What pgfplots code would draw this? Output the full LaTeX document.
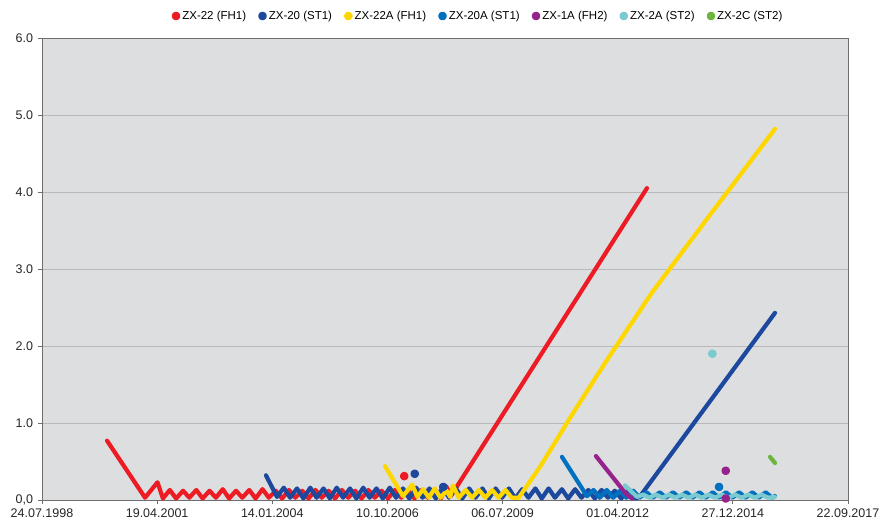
\documentclass[border=0pt]{standalone}
\usepackage{fontspec}
\setmainfont{Liberation Sans}
\usepackage{pgfplots}
\pgfplotsset{compat=1.18}
\definecolor{cRed}{RGB}{237,28,36}
\definecolor{cBlue}{RGB}{28,72,158}
\definecolor{cYel}{RGB}{255,215,0}
\definecolor{cMid}{RGB}{0,112,192}
\definecolor{cPur}{RGB}{150,35,140}
\definecolor{cTeal}{RGB}{122,202,207}
\definecolor{cGrn}{RGB}{108,182,62}
\definecolor{bgGray}{RGB}{221,222,224}
\definecolor{gridGray}{RGB}{185,185,188}
\definecolor{axGray}{RGB}{110,110,110}
\begin{document}
\begin{tikzpicture}
\path[use as bounding box] (-42bp,-22bp) rectangle (837bp,500bp);
\begin{axis}[
  scale only axis, width=806bp, height=462bp,
  xmin=0, xmax=7000, ymin=0, ymax=6,
  axis background/.style={fill=bgGray},
  ytick={0,1,2,3,4,5,6},
  yticklabels={{0,0},{1.0},{2.0},{3.0},{4.0},{5.0},{6.0}},
  xtick={0,1000,2000,3000,4000,5000,6000,7000},
  xticklabels={24.07.1998,19.04.2001,14.01.2004,10.10.2006,06.07.2009,01.04.2012,27.12.2014,22.09.2017},
  ymajorgrids, grid style={gridGray, line width=0.9bp},
  tick align=outside, tick pos=left, major tick length=4bp,
  tick style={axGray, line width=0.8bp},
  axis line style={axGray, line width=0.9bp},
  ticklabel style={font=\fontsize{12.5bp}{14bp}\selectfont, text=black!85},
  xticklabel style={yshift=-1.5bp},
  yticklabel style={xshift=-1.5bp},
  legend style={at={(0.541,1.0476)}, anchor=center, draw=none, fill=none,
    legend columns=7, font=\fontsize{11.5bp}{13bp}\selectfont,
    /tikz/every even column/.append style={column sep=10bp}},
  every axis plot/.append style={line width=4.2bp, line join=round, line cap=round},
]
\addlegendimage{legend image code/.code={\fill[cRed] (0bp,0bp) circle (2.2bp);}}
\addlegendentry{ZX-22 (FH1)}
\addlegendimage{legend image code/.code={\fill[cBlue] (0bp,0bp) circle (2.2bp);}}
\addlegendentry{ZX-20 (ST1)}
\addlegendimage{legend image code/.code={\fill[cYel] (0bp,0bp) circle (2.2bp);}}
\addlegendentry{ZX-22A (FH1)}
\addlegendimage{legend image code/.code={\fill[cMid] (0bp,0bp) circle (2.2bp);}}
\addlegendentry{ZX-20A (ST1)}
\addlegendimage{legend image code/.code={\fill[cPur] (0bp,0bp) circle (2.2bp);}}
\addlegendentry{ZX-1A (FH2)}
\addlegendimage{legend image code/.code={\fill[cTeal] (0bp,0bp) circle (2.2bp);}}
\addlegendentry{ZX-2A (ST2)}
\addlegendimage{legend image code/.code={\fill[cGrn] (0bp,0bp) circle (2.2bp);}}
\addlegendentry{ZX-2C (ST2)}

% ZX-22 (FH1)
\addplot[cRed, forget plot] coordinates {
(565,0.77) (895,0.03) (1003,0.23) (1050,0.02) (1110,0.13) (1165,0.02) (1225,0.12)
(1280,0.03) (1340,0.13) (1395,0.02) (1455,0.12) (1510,0.03) (1570,0.14) (1625,0.02)
(1685,0.12) (1740,0.03) (1800,0.13) (1855,0.02) (1915,0.14) (1970,0.03) (2030,0.12)
(2085,0.02) (2145,0.13) (2200,0.03) (2260,0.12) (2315,0.02) (2375,0.13) (2430,0.03)
(2490,0.12) (2545,0.02) (2605,0.13) (2660,0.03) (2720,0.12) (2775,0.02) (2835,0.13)
(2890,0.03) (2950,0.12) (3005,0.02) (3065,0.13) (3120,0.03) (3180,0.12) (3235,0.02)
(3295,0.13) (3350,0.03) (3410,0.12) (3465,0.02) (3510,0.18) (3550,0.05) (4091,1.32)
(5254,4.05)};
\addplot[cRed, only marks, mark=*, mark size=2.2bp, forget plot] coordinates {(3146,0.31)};

% ZX-20 (ST1)
\addplot[cBlue, forget plot] coordinates {
(1945,0.32) (2041,0.04) (2100,0.16) (2155,0.03) (2215,0.15) (2270,0.02) (2330,0.16)
(2385,0.03) (2445,0.15) (2500,0.02) (2560,0.16) (2615,0.03) (2675,0.15) (2730,0.02)
(2790,0.16) (2845,0.03) (2905,0.15) (2960,0.02) (3020,0.16) (3075,0.03) (3135,0.15)
(3190,0.02) (3250,0.16) (3305,0.03) (3365,0.15) (3420,0.02) (3480,0.16) (3535,0.03)
(3595,0.15) (3650,0.02) (3710,0.15) (3765,0.03) (3825,0.15) (3880,0.02) (3940,0.15)
(3995,0.03) (4055,0.15) (4110,0.02) (4170,0.14) (4225,0.03) (4285,0.15) (4340,0.02)
(4400,0.15) (4455,0.03) (4515,0.14) (4570,0.02) (4630,0.14) (4685,0.03) (4745,0.13)
(4800,0.02) (4860,0.13) (4915,0.03) (4975,0.12) (5030,0.02) (5090,0.12) (5150,0.02)
(5190,0.04) (6366,2.43)};
\addplot[cBlue, only marks, mark=*, mark size=2.2bp, forget plot] coordinates {(3237,0.34) (3485,0.17)};

% ZX-22A (FH1)
\addplot[cYel, forget plot] coordinates {
(2979,0.44) (3135,0.05) (3215,0.20) (3260,0.04) (3310,0.14) (3360,0.03) (3410,0.15)
(3460,0.03) (3515,0.12) (3545,0.04) (3570,0.19) (3620,0.03) (3680,0.13) (3735,0.03)
(3795,0.13) (3850,0.03) (3910,0.13) (3965,0.03) (4025,0.13) (4080,0.03) (4140,0.03)
(4325,0.43) (4600,1.10) (4890,1.78) (5300,2.70) (5800,3.70) (6366,4.82)};

% ZX-20A (ST1)
\addplot[cMid, forget plot] coordinates {
(4516,0.56) (4733,0.05) (4790,0.13) (4845,0.03) (4905,0.13) (4960,0.03) (5020,0.12)
(5075,0.03) (5135,0.12) (5190,0.03) (5250,0.10) (5305,0.03) (5365,0.10) (5420,0.03)
(5480,0.10) (5535,0.03) (5595,0.10) (5650,0.03) (5710,0.10) (5765,0.03) (5825,0.10)
(5880,0.03) (5940,0.10) (5995,0.03) (6055,0.10) (6110,0.03) (6170,0.10) (6225,0.03)
(6285,0.10) (6340,0.03) (6366,0.05)};
\addplot[cMid, only marks, mark=*, mark size=2.2bp, forget plot] coordinates {(5880,0.17)};

% ZX-1A (FH2)
\addplot[cPur, forget plot] coordinates {(4811,0.57) (5072,0.08) (5124,0.02)};
\addplot[cPur, only marks, mark=*, mark size=2.2bp, forget plot] coordinates {(5938,0.38) (5938,0.02)};

% ZX-2A (ST2)
\addplot[cTeal, forget plot] coordinates {
(5063,0.19) (5168,0.04) (5220,0.07) (5275,0.03) (5330,0.07) (5390,0.03) (5445,0.07)
(5500,0.03) (5560,0.07) (5615,0.03) (5675,0.07) (5730,0.03) (5790,0.07) (5845,0.03)
(5905,0.07) (5960,0.03) (6020,0.07) (6075,0.03) (6135,0.07) (6190,0.03) (6250,0.07)
(6305,0.03) (6366,0.04)};
\addplot[cTeal, only marks, mark=*, mark size=2.2bp, forget plot] coordinates {(5822,1.90)};

% ZX-2C (ST2)
\addplot[cGrn, forget plot] coordinates {(6323,0.56) (6366,0.48)};
\end{axis}
\end{tikzpicture}
\end{document}
